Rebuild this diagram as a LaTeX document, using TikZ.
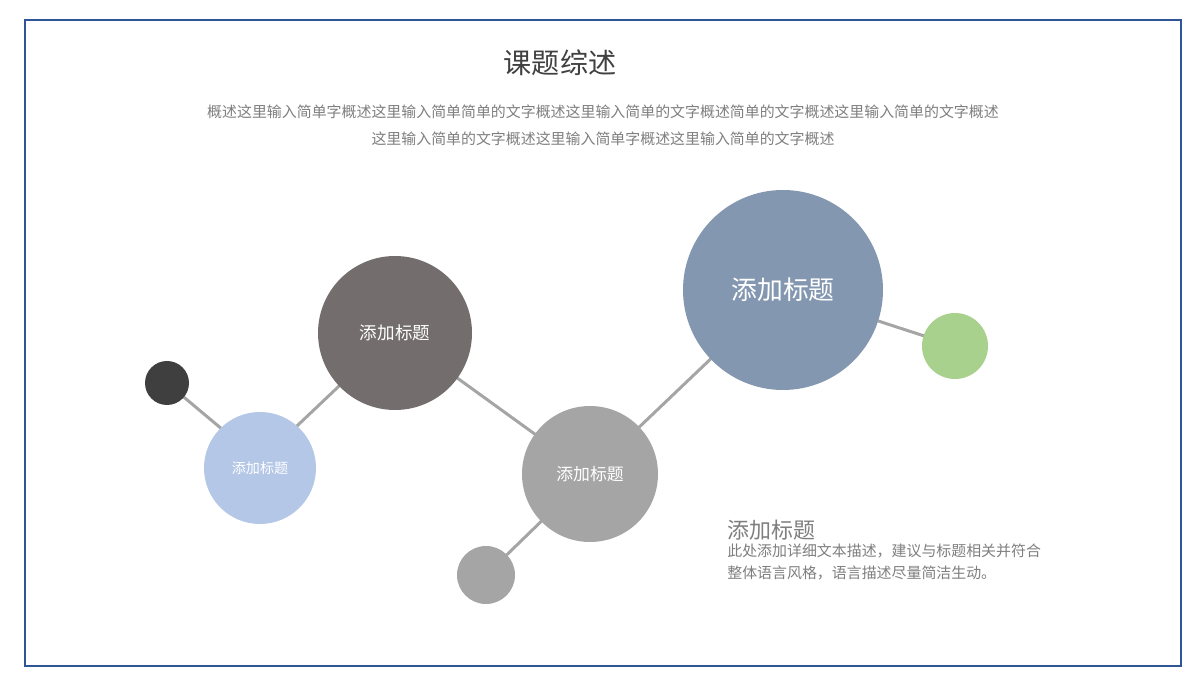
\documentclass[tikz,border=0pt]{standalone}
\usepackage{fontspec}
\setmainfont{Noto Sans CJK SC}
\begin{document}
\begin{tikzpicture}[x=0.02cm,y=-0.02cm,
  ball/.style={circle,inner sep=0pt,text=white},
  link/.style={draw=lnk,line width=1.7pt},
  txt/.style={text=tgray,inner sep=0pt}]
\definecolor{lnk}{HTML}{A5A5A5}
\definecolor{tgray}{HTML}{7F7F7F}
\definecolor{frm}{HTML}{2F5597}
\useasboundingbox (0,0) rectangle (1200,685);
\fill[white] (0,0) rectangle (1200,685);
\draw[frm,line width=0.6pt] (25,20) rectangle (1181,666);
\node[inner sep=0pt,text=black!75,font=\fontsize{16}{19}\selectfont] (title) at (560,63) {课题综述};
\node[txt,font=\fontsize{8.5}{15.3}\selectfont,align=center] (desc) at (603,125) {概述这里输入简单字概述这里输入简单简单的文字概述这里输入简单的文字概述简单的文字概述这里输入简单的文字概述\\这里输入简单的文字概述这里输入简单字概述这里输入简单的文字概述};
\path[link] (167,383) -- (260,461) -- (395,333) -- (590,474) -- (486,575)
  (590,474) -- (783,290) -- (955,346);
\node[ball,fill={rgb,255:red,63;green,63;blue,63},minimum size=44*0.02cm] (a) at (167,383) {};
\node[ball,fill={rgb,255:red,180;green,199;blue,231},minimum size=112*0.02cm,font=\fontsize{8}{9}\selectfont] (b) at (260,468) {};
\node[text=white,font=\fontsize{8}{9}\selectfont] at (260,468) {添加标题};
\node[ball,fill={rgb,255:red,115;green,110;blue,109},minimum size=154*0.02cm,font=\fontsize{10}{12}\selectfont] (c) at (395,333) {添加标题};
\node[ball,fill={rgb,255:red,165;green,165;blue,165},minimum size=136*0.02cm,font=\fontsize{9.6}{12}\selectfont] (d) at (590,474) {添加标题};
\node[ball,fill={rgb,255:red,165;green,165;blue,165},minimum size=58*0.02cm] (e) at (486,575) {};
\node[ball,fill={rgb,255:red,132;green,151;blue,176},minimum size=200*0.02cm,font=\fontsize{14.7}{17}\selectfont] (f) at (783,290) {添加标题};
\node[ball,fill={rgb,255:red,169;green,209;blue,142},minimum size=66*0.02cm] (g) at (955,346) {};
\node[txt,anchor=west,font=\fontsize{12.5}{15}\selectfont] (h) at (727,530) {添加标题};
\node[txt,anchor=north west,align=left,font=\fontsize{8.5}{12.4}\selectfont] (p) at (727,544) {此处添加详细文本描述，建议与标题相关并符合\\整体语言风格，语言描述尽量简洁生动。};
\end{tikzpicture}
\end{document}
